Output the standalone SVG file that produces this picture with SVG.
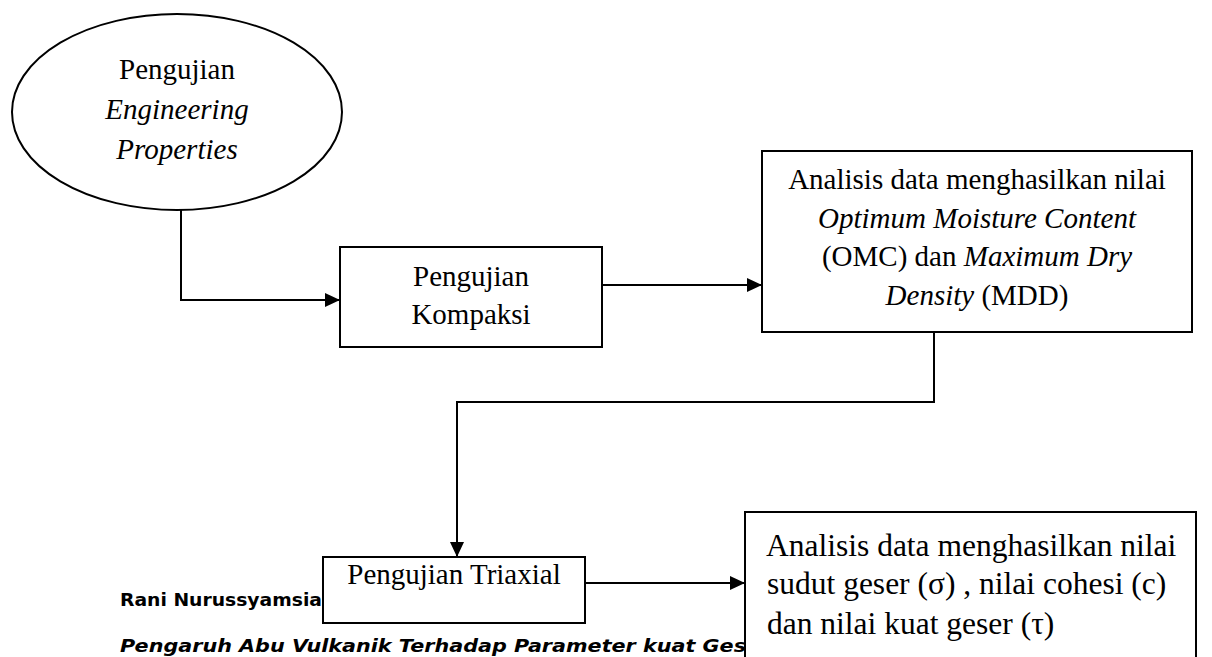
<svg xmlns="http://www.w3.org/2000/svg" width="1212" height="657" viewBox="0 0 1212 657">
<style>
.shape{fill:#fff;stroke:#000;stroke-width:2}
.t{font-family:"Liberation Serif","Times New Roman",serif;font-size:29px;fill:#000}
.big{font-size:31.5px}
.c{text-anchor:middle}
.i{font-style:italic}
.conn{fill:none;stroke:#000;stroke-width:2}
.foot{font-family:"DejaVu Sans","Liberation Sans",sans-serif;font-weight:bold;fill:#000}
</style>
<defs>
<marker id="arr" viewBox="0 0 15 14" refX="15" refY="7" markerWidth="15" markerHeight="14" markerUnits="userSpaceOnUse" orient="auto">
<path d="M0,0 L15,7 L0,14 z" fill="#000"/>
</marker>
</defs>
<rect width="1212" height="657" fill="#fff"/>
<g id="footer">
<text class="foot" x="120" y="606" font-size="17" textLength="202" lengthAdjust="spacingAndGlyphs">Rani Nurussyamsia</text>
<text class="foot" x="120" y="652" font-size="18" font-style="italic" textLength="640" lengthAdjust="spacingAndGlyphs">Pengaruh Abu Vulkanik Terhadap Parameter kuat Gese</text>
</g>
<g id="connectors">
<path class="conn" d="M181,210 V300 H340" marker-end="url(#arr)"/>
<path class="conn" d="M602,285 H762" marker-end="url(#arr)"/>
<path class="conn" d="M934,332 V402 H457 V557" marker-end="url(#arr)"/>
<path class="conn" d="M585,583 H745" marker-end="url(#arr)"/>
</g>
<g id="n1">
<ellipse class="shape" cx="177" cy="112" rx="165" ry="98"/>
<text class="t c" x="177" y="79">Pengujian</text>
<text class="t c i" x="177" y="119">Engineering</text>
<text class="t c i" x="177" y="159">Properties</text>
</g>
<g id="n2">
<rect class="shape" x="340" y="247" width="262" height="100"/>
<text class="t c" x="471" y="286">Pengujian</text>
<text class="t c" x="471" y="324">Kompaksi</text>
</g>
<g id="n3">
<rect class="shape" x="762" y="151" width="430" height="181"/>
<text class="t c" x="977" y="189">Analisis data menghasilkan nilai</text>
<text class="t c" x="977" y="228"><tspan class="i">Optimum Moisture Content</tspan></text>
<text class="t c" x="977" y="266">(OMC) dan <tspan class="i">Maximum Dry</tspan></text>
<text class="t c" x="977" y="305"><tspan class="i">Density</tspan> (MDD)</text>
</g>
<g id="n4">
<rect class="shape" x="323" y="557" width="262" height="66"/>
<text class="t c" x="454" y="584">Pengujian Triaxial</text>
</g>
<g id="n5">
<rect class="shape" x="745" y="512" width="451" height="150"/>
<text class="t big" x="766" y="556">Analisis data menghasilkan nilai</text>
<text class="t big" x="767" y="594">sudut geser (σ) , nilai cohesi (c)</text>
<text class="t big" x="767" y="634">dan nilai kuat geser (τ)</text>
</g>
</svg>
